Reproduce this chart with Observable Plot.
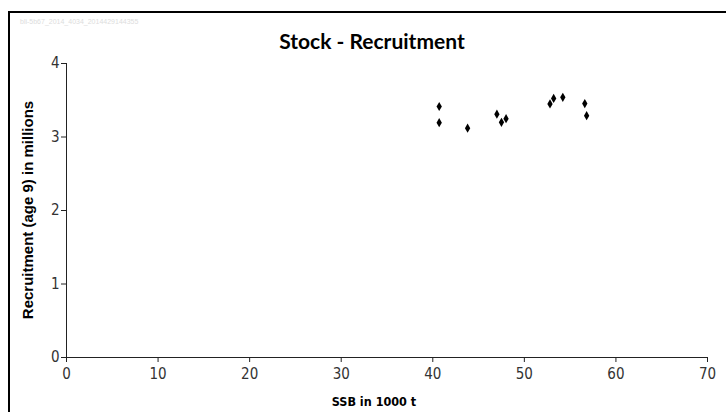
<!DOCTYPE html>
<html><head><meta charset="utf-8">
<script src="https://cdn.jsdelivr.net/npm/d3@7"></script>
<script src="https://cdn.jsdelivr.net/npm/@observablehq/plot@0.6"></script>
<style>
body{margin:0;background:#fff;overflow:hidden;}
#wrap{position:relative;width:726px;height:412px;}
#frame{position:absolute;left:8px;top:11px;width:800px;height:500px;border:2px solid #000;}
#chart{position:absolute;left:0;top:0;}
</style></head>
<body>
<div id="wrap"><div id="frame"></div><div id="chart"></div></div>
<script>
const ssb = [40.7, 40.7, 43.8, 47.0, 47.5, 48.0, 52.8, 53.2, 54.2, 56.6, 56.8];
const recruitment = [3.415, 3.195, 3.12, 3.31, 3.20, 3.25, 3.45, 3.525, 3.54, 3.455, 3.29];
const xTicks = [0, 10, 20, 30, 40, 50, 60, 70];
const yTicks = [0, 1, 2, 3, 4];
const title = "Stock - Recruitment";
const xLabel = "SSB in 1000 t";
const yLabel = "Recruitment (age 9) in millions";
const watermark = "bli-5b67_2014_4034_2014429144355";

const data = ssb.map((x, i) => ({x, y: recruitment[i]}));

const chart = Plot.plot({
  width: 726, height: 412,
  marginLeft: 66, marginRight: 19, marginTop: 63, marginBottom: 55,
  style: {background: "transparent", fontFamily: "'DejaVu Sans Condensed', 'Liberation Sans Narrow', sans-serif", fontSize: "15px", color: "#333"},
  x: {domain: [0, 70], ticks: xTicks, label: null},
  y: {domain: [0, 4], ticks: yTicks, label: null},
  marks: [
    Plot.axisX({ticks: xTicks, tickSize: 5, tickPadding: 6, fontSize: 15, fill: "#333", stroke: "#222", tickFormat: d3.format("d")}),
    Plot.axisY({ticks: yTicks, tickSize: 5, tickPadding: 2, fontSize: 15, fill: "#333", stroke: "#222", tickFormat: d3.format("d")}),
    Plot.ruleY([0], {stroke: "#222"}),
    Plot.ruleX([0], {stroke: "#222"}),
    Plot.dot(data, {x: "x", y: "y", symbol: "diamond", r: 2.8, fill: "#000", stroke: "none"})
  ]
});
const svg = d3.select(chart);
svg.append("text").attr("x", 372).attr("y", 49).attr("text-anchor", "middle")
  .style("font-family", "Lato, 'Open Sans', sans-serif").style("font-weight", "bold").style("font-size", "21px").attr("fill", "#000").text(title);
svg.append("text").attr("x", 374).attr("y", 406).attr("text-anchor", "middle")
  .style("font-family", "'DejaVu Sans Condensed', sans-serif").style("font-weight", "bold").style("font-size", "12.5px").attr("fill", "#000").text(xLabel);
svg.append("text").attr("transform", "translate(33,210) rotate(-90)").attr("text-anchor", "middle")
  .style("font-family", "'Liberation Sans', Arial, sans-serif").style("font-weight", "bold").style("font-size", "15px").attr("fill", "#000").text(yLabel);
svg.append("text").attr("x", 20).attr("y", 24).attr("text-anchor", "start")
  .style("font-family", "'Liberation Sans', sans-serif").style("font-size", "7px").attr("fill", "#ddd").text(watermark);
document.getElementById("chart").appendChild(chart);
</script>
</body></html>
